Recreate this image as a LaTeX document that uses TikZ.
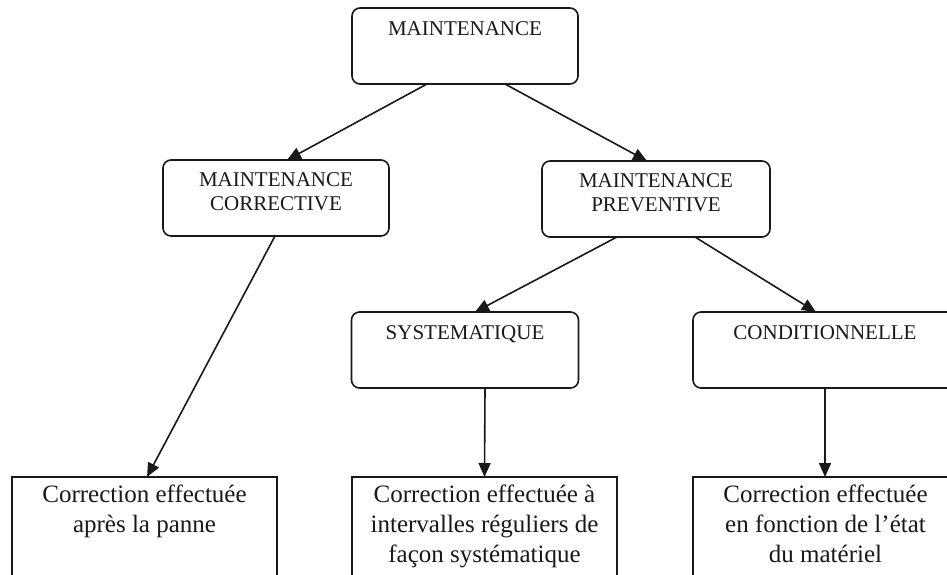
\documentclass[tikz,border=0pt]{standalone}
\usepackage{fontspec}
\setmainfont{Liberation Serif}
\usetikzlibrary{arrows.meta}
\begin{document}
\begin{tikzpicture}[x=1pt,y=-1pt,
  every node/.style={inner sep=0pt, outer sep=0pt},
  roundbox/.style={draw=black!90, line width=1.6pt, rounded corners=8pt,
    minimum height=76pt},
  plainbox/.style={draw=black!90, line width=1.6pt,
    minimum width=265pt, minimum height=140pt, anchor=north},
  capslabel/.style={anchor=north, align=center, text=black!90,
    font=\fontsize{21}{24}\selectfont},
  desclabel/.style={anchor=north, align=center, text=black!90,
    font=\fontsize{25}{30}\selectfont},
  link/.style={draw=black!90, line width=1.6pt,
    -{Triangle[length=14pt,width=12pt]}}
]
\path[use as bounding box] (0,0) rectangle (947,575);
\clip (0,0) rectangle (947,575);
\fill[white] (0,0) rectangle (947,575);

% rounded category boxes
\node[roundbox, minimum width=226pt] (M) at (465,46) {};
\node[roundbox, minimum width=226pt] (C) at (276,198) {};
\node[roundbox, minimum width=228pt] (P) at (656,199) {};
\node[roundbox, minimum width=227pt] (S) at (465,350) {};
\node[roundbox, minimum width=264pt] (K) at (825,350) {};

% plain description boxes
\node[plainbox] (B1) at (144.5,477) {};
\node[plainbox] (B2) at (484.5,477) {};
\node[plainbox] (B3) at (825.5,477) {};

% labels (page y grows upward, so a negative yshift moves down)
\node[capslabel] (Mt) at ([yshift=-14pt]M.north) {MAINTENANCE};
\node[capslabel] (Ct) at ([yshift=-13pt]C.north) {MAINTENANCE\\CORRECTIVE};
\node[capslabel] (Pt) at ([yshift=-13pt]P.north) {MAINTENANCE\\PREVENTIVE};
\node[capslabel] (St) at ([yshift=-14pt]S.north) {SYSTEMATIQUE};
\node[capslabel] (Kt) at ([yshift=-14pt]K.north) {CONDITIONNELLE};

\node[desclabel] (B1t) at ([yshift=-8pt]B1.north) {Correction effectuée\\après la panne};
\node[desclabel] (B2t) at ([yshift=-8pt]B2.north) {Correction effectuée à\\intervalles réguliers de\\façon systématique};
\node[desclabel] (B3t) at ([yshift=-8pt]B3.north) {Correction effectuée\\en fonction de l’état\\du matériel};

% connectors
\draw[link] ([xshift=-38pt]M.south) -- ([xshift=11pt]C.north);
\draw[link] ([xshift=40pt]M.south) -- ([xshift=-9pt]P.north);
\draw[link] ([xshift=-1pt]C.south) -- ([xshift=2.5pt]B1.north);
\draw[link] ([xshift=-39pt]P.south) -- ([xshift=10pt]S.north);
\draw[link] ([xshift=39pt]P.south) -- ([xshift=-9pt]K.north);
\draw[link] ([xshift=20pt]S.south) -- (B2.north);
\draw[link] (K.south) -- ([xshift=-0.5pt]B3.north);
\end{tikzpicture}
\end{document}
